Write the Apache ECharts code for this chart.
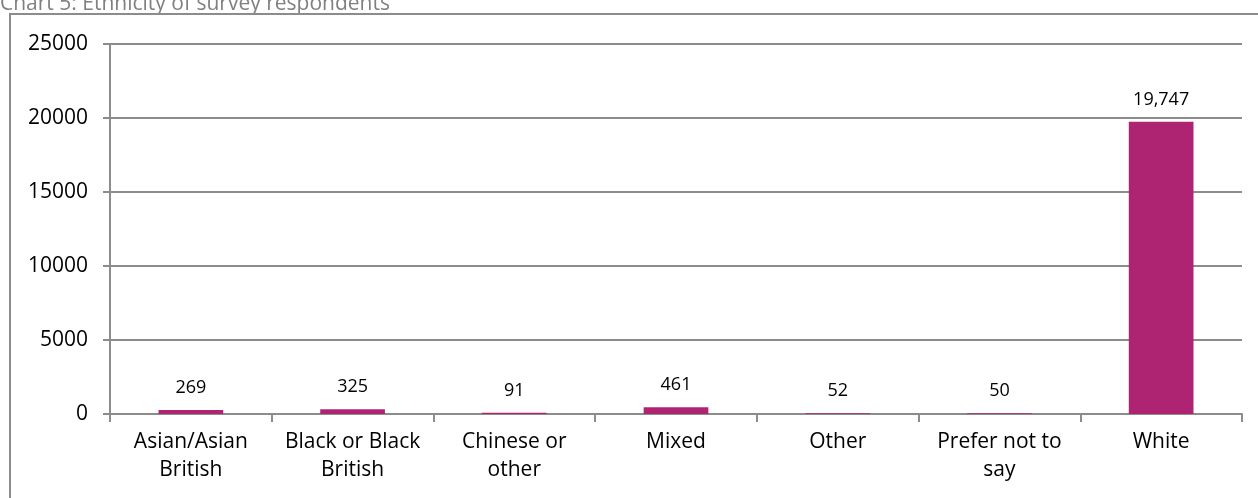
<!DOCTYPE html>
<html>
<head>
<meta charset="utf-8">
<script src="https://cdn.jsdelivr.net/npm/echarts@6/dist/echarts.min.js"></script>
<style>
  html, body { margin: 0; padding: 0; background: #fff; }
  #main { width: 1258px; height: 498px; }
</style>
</head>
<body>
<div id="main"></div>
<script>
// data
const categories = [
  "Asian/Asian\nBritish",
  "Black or Black\nBritish",
  "Chinese or\nother",
  "Mixed",
  "Other",
  "Prefer not to\nsay",
  "White"
]
const respondents = [269, 325, 91, 461, 52, 50, 19747]
const yTicks = { min: 0, max: 25000, interval: 5000 }

const chartDom = document.getElementById("main")
const myChart = echarts.init(chartDom)
const axisGrey = "#8c8c8c"
const font = "'Open Sans', sans-serif"

const option = {
  animation: false,
  textStyle: { fontFamily: font },
  graphic: [
    {
      type: "text",
      x: 0,
      y: -6,
      style: {
        text: "Chart 5: Ethnicity of survey respondents",
        fill: "#808080",
        font: "21px " + font
      }
    },
    {
      type: "rect",
      shape: { x: 10, y: 14, width: 1260, height: 500 },
      style: { fill: "none", stroke: axisGrey, lineWidth: 2 }
    }
  ],
  grid: {
    left: 110,
    right: 16,
    top: 44,
    bottom: 84,
    containLabel: false
  },
  xAxis: {
    type: "category",
    data: categories,
    axisLine: { lineStyle: { color: axisGrey, width: 2 } },
    axisTick: { show: true, length: 8, lineStyle: { color: axisGrey, width: 2 } },
    axisLabel: {
      color: "#000",
      fontSize: 21,
      lineHeight: 28,
      margin: 14,
      interval: 0,
      fontFamily: font
    }
  },
  yAxis: {
    type: "value",
    min: yTicks.min,
    max: yTicks.max,
    interval: yTicks.interval,
    axisLine: { show: true, lineStyle: { color: axisGrey, width: 2 } },
    axisTick: { show: true, length: 7, lineStyle: { color: axisGrey, width: 2 } },
    axisLabel: {
      color: "#000",
      fontSize: 21,
      margin: 22,
      fontFamily: font,
      formatter: (v) => String(v)
    },
    splitLine: { show: true, lineStyle: { color: axisGrey, width: 2 } }
  },
  series: [
    {
      type: "bar",
      data: respondents,
      barWidth: "40%",
      itemStyle: { color: "#ae2473" },
      label: {
        show: true,
        position: "top",
        distance: 13,
        color: "#000",
        fontSize: 18,
        fontFamily: font,
        formatter: (p) => p.value.toLocaleString("en-GB")
      }
    }
  ]
}

option && myChart.setOption(option)
</script>
</body>
</html>
